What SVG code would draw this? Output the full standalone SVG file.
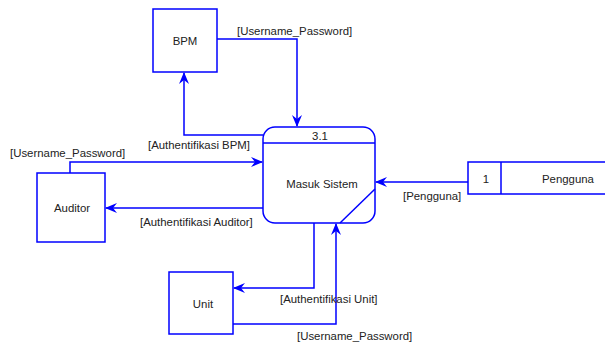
<svg xmlns="http://www.w3.org/2000/svg" width="605" height="342" viewBox="0 0 605 342">
  <style>
    .box { fill: #ffffff; stroke: #0000ff; stroke-width: 1.5; }
    .flow { fill: none; stroke: #0000ff; stroke-width: 1.5; }
    .t { font-family: "Liberation Sans", Arial, sans-serif; font-size: 11.4px; fill: #222222; }
    .c { text-anchor: middle; }
  </style>
  <defs>
    <marker id="arrow" viewBox="0 0 12 10" refX="11" refY="5" markerWidth="12" markerHeight="10" markerUnits="userSpaceOnUse" orient="auto">
      <path d="M0,0 L12,5 L0,10 L4,5 z" fill="#0000ff"/>
    </marker>
  </defs>

  <rect width="605" height="342" fill="#ffffff"/>

  <!-- connectors -->
  <g id="connectors">
    <path class="flow" d="M217,39 H297 V126" marker-end="url(#arrow)"/>
    <path class="flow" d="M263,135 H184 V73" marker-end="url(#arrow)"/>
    <path class="flow" d="M70,173 V162 H262" marker-end="url(#arrow)"/>
    <path class="flow" d="M263,208 H106" marker-end="url(#arrow)"/>
    <path class="flow" d="M468,182 H376" marker-end="url(#arrow)"/>
    <path class="flow" d="M314,223 V288 H234" marker-end="url(#arrow)"/>
    <path class="flow" d="M233,324 H336 V224" marker-end="url(#arrow)"/>
    <text class="t" x="237" y="35">[Username_Password]</text>
    <text class="t" x="148" y="149">[Authentifikasi BPM]</text>
    <text class="t" x="10" y="157">[Username_Password]</text>
    <text class="t" x="140" y="226">[Authentifikasi Auditor]</text>
    <text class="t" x="403" y="200">[Pengguna]</text>
    <text class="t" x="280" y="303">[Authentifikasi Unit]</text>
    <text class="t" x="297" y="340">[Username_Password]</text>
  </g>

  <!-- external entity: BPM -->
  <g id="bpm">
    <rect class="box" x="153" y="9" width="64" height="63"/>
    <text class="t c" x="185" y="45">BPM</text>
  </g>

  <!-- external entity: Auditor -->
  <g id="auditor">
    <rect class="box" x="37" y="173" width="68" height="69"/>
    <text class="t c" x="72" y="212">Auditor</text>
  </g>

  <!-- external entity: Unit -->
  <g id="unit">
    <rect class="box" x="169" y="272" width="64" height="62"/>
    <text class="t c" x="203" y="308">Unit</text>
  </g>

  <!-- process 3.1 -->
  <g id="process-3-1">
    <rect class="box" x="263" y="127" width="112" height="96" rx="12" ry="12"/>
    <line class="flow" x1="263" y1="143" x2="375" y2="143"/>
    <line class="flow" x1="375" y1="189" x2="340" y2="223"/>
    <text class="t c" x="320" y="140">3.1</text>
    <text class="t c" x="322" y="188">Masuk Sistem</text>
  </g>

  <!-- data store 1: Pengguna -->
  <g id="store-pengguna">
    <path class="box" d="M606,162 H468 V194 H606"/>
    <line class="flow" x1="501" y1="162" x2="501" y2="194"/>
    <text class="t c" x="486" y="183">1</text>
    <text class="t c" x="568" y="183">Pengguna</text>
  </g>
</svg>
